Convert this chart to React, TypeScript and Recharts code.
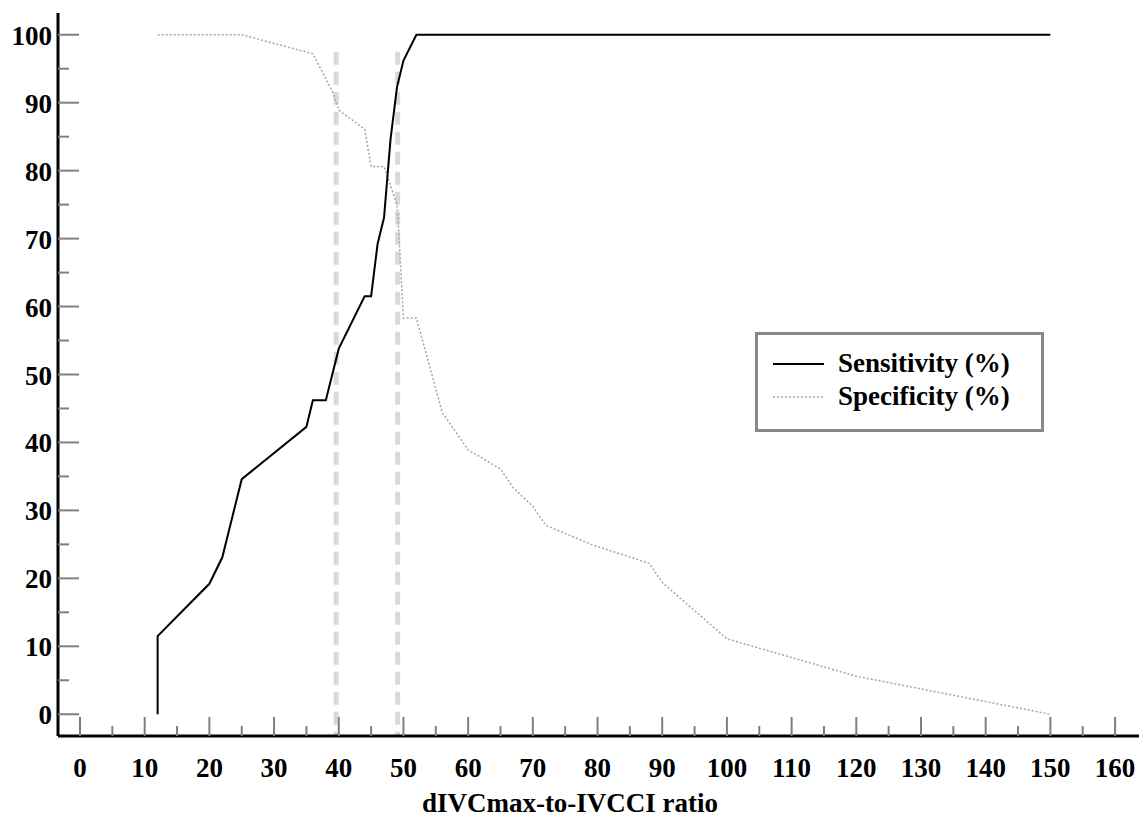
import { LineChart, Line, XAxis, YAxis, ReferenceLine, Legend } from "recharts";

// ROC cut-off curves
const sensX = [12, 12, 20, 22, 25, 35, 36, 38, 40, 44, 45, 46, 47, 48, 49, 50, 52, 150];
const sensY = [0, 11.5, 19.2, 23.1, 34.6, 42.3, 46.2, 46.2, 53.8, 61.5, 61.5, 69.2, 73.1, 84.6, 92.3, 96.2, 100, 100];

const specX = [12, 25, 36, 39, 40, 44, 45, 47, 49, 49.2, 50, 52, 56, 60, 65, 67, 70, 72, 79, 88, 90, 100, 120, 150];
const specY = [100, 100, 97.2, 91.7, 88.9, 86.1, 80.6, 80.6, 75, 72.2, 58.3, 58.3, 44.4, 38.9, 36.1, 33.3, 30.6, 27.8, 25, 22.2, 19.4, 11.1, 5.6, 0];

const cutoffs = [39.6, 49.1];
const cutoffTop = 97.5;

const xTicks = [0, 5, 10, 15, 20, 25, 30, 35, 40, 45, 50, 55, 60, 65, 70, 75, 80, 85, 90, 95, 100, 105, 110, 115, 120, 125, 130, 135, 140, 145, 150, 155, 160];
const yTicks = [0, 5, 10, 15, 20, 25, 30, 35, 40, 45, 50, 55, 60, 65, 70, 75, 80, 85, 90, 95, 100];

const sensData = sensX.map((x, i) => ({ x, y: sensY[i] }));
const specData = specX.map((x, i) => ({ x, y: specY[i] }));

const FONT = '"Liberation Serif", "DejaVu Serif", serif';
const TICK_GREY = "#7f7f7f";

function YTick(props: any) {
  const { x, y, payload } = props;
  const major = payload.value % 10 === 0;
  return (
    <g>
      <line x1={x} y1={y} x2={x + (major ? 21 : 11)} y2={y} stroke={TICK_GREY} strokeWidth={2} />
      {major && (
        <text x={x - 6} y={y + 10} textAnchor="end" fontFamily={FONT} fontWeight="bold" fontSize={27} fill="#000">
          {payload.value}
        </text>
      )}
    </g>
  );
}

function XTick(props: any) {
  const { x, y, payload } = props;
  const major = payload.value % 10 === 0;
  return (
    <g>
      <line x1={x} y1={y} x2={x} y2={y - (major ? 19 : 10)} stroke={TICK_GREY} strokeWidth={2} />
      {major && (
        <text x={x} y={y + 41} textAnchor="middle" fontFamily={FONT} fontWeight="bold" fontSize={27} fill="#000">
          {payload.value}
        </text>
      )}
    </g>
  );
}

function LegendBox() {
  const row = { display: "flex", alignItems: "center", height: 33 };
  const text = { fontFamily: FONT, fontWeight: "bold" as const, fontSize: 27, color: "#000", marginLeft: 14 };
  return (
    <div style={{ border: "3px solid #888", width: 268, height: 82, boxSizing: "content-box", paddingTop: 12, paddingLeft: 15 }}>
      <div style={row}>
        <svg width={51} height={6}>
          <line x1={0} y1={3} x2={51} y2={3} stroke="#000" strokeWidth={2} />
        </svg>
        <span style={text}>Sensitivity (%)</span>
      </div>
      <div style={row}>
        <svg width={51} height={6}>
          <line x1={0} y1={3} x2={51} y2={3} stroke="#a6a6a6" strokeWidth={1.5} strokeDasharray="2 2" />
        </svg>
        <span style={text}>Specificity (%)</span>
      </div>
    </div>
  );
}

export default function App() {
  return (
    <div style={{ position: "absolute", left: 0, top: 0, background: "#fff" }}>
      <LineChart width={1139} height={822} margin={{ top: 13, right: 0, bottom: 0, left: 0 }}>
        <XAxis
          type="number"
          dataKey="x"
          domain={[-3.4, 163.7]}
          ticks={xTicks}
          interval={0}
          allowDataOverflow
          height={86}
          tickSize={0}
          tickMargin={0}
          tickLine={false}
          axisLine={{ stroke: "#000", strokeWidth: 3 }}
          tick={<XTick />}
          label={{
            content: () => (
              <text x={570} y={812} textAnchor="middle" fontFamily={FONT} fontWeight="bold" fontSize={27} fill="#000">
                dIVCmax-to-IVCCI ratio
              </text>
            ),
          }}
        />
        <YAxis
          type="number"
          dataKey="y"
          domain={[-3.2, 103.2]}
          ticks={yTicks}
          interval={0}
          allowDataOverflow
          width={58}
          tickSize={0}
          tickMargin={0}
          tickLine={false}
          axisLine={{ stroke: "#000", strokeWidth: 3 }}
          tick={<YTick />}
        />
        {cutoffs.map((c) => (
          <ReferenceLine
            key={c}
            segment={[{ x: c, y: cutoffTop }, { x: c, y: -3.2 }]}
            stroke="#d9d9d9"
            strokeWidth={5}
            strokeDasharray="13 7"
            ifOverflow="visible"
          />
        ))}
        <Line
          data={specData}
          dataKey="y"
          name="Specificity (%)"
          type="linear"
          stroke="#a6a6a6"
          strokeWidth={1.5}
          strokeDasharray="2 2"
          dot={false}
          activeDot={false}
          isAnimationActive={false}
        />
        <Line
          data={sensData}
          dataKey="y"
          name="Sensitivity (%)"
          type="linear"
          stroke="#000"
          strokeWidth={2}
          dot={false}
          activeDot={false}
          isAnimationActive={false}
        />
        <Legend
          layout="horizontal"
          verticalAlign="middle"
          align="center"
          content={<LegendBox />}
          wrapperStyle={{ position: "absolute", left: 755, top: 332, width: "auto" }}
        />
      </LineChart>
    </div>
  );
}
